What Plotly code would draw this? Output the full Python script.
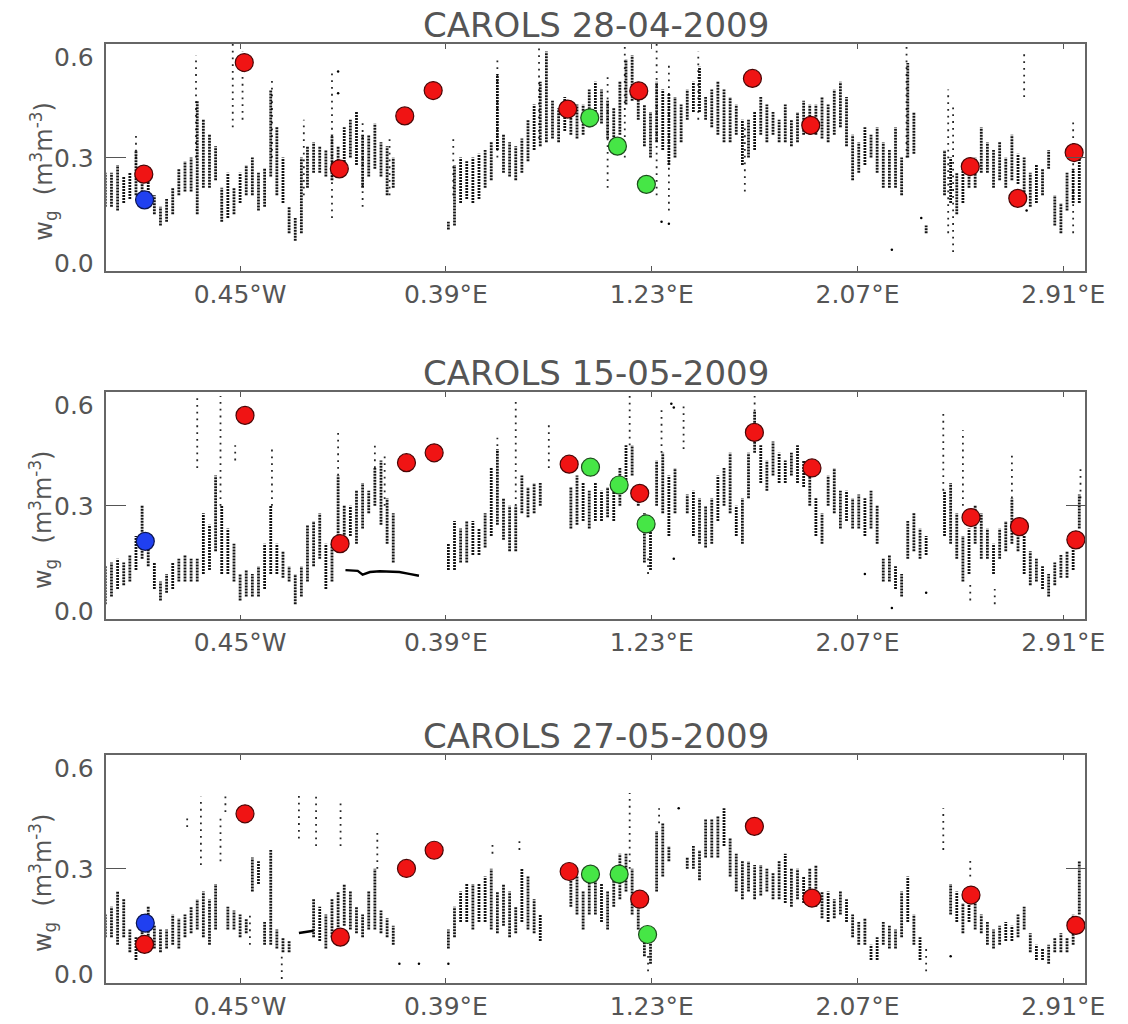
import plotly.graph_objects as go

# ---------------- data ----------------
LON = [-1.0, -0.975, -0.95, -0.925, -0.9, -0.875, -0.85, -0.825,
       -0.8, -0.775, -0.75, -0.725, -0.7, -0.675, -0.65, -0.625,
       -0.6, -0.575, -0.55, -0.525, -0.5, -0.475, -0.45, -0.425,
       -0.4, -0.375, -0.35, -0.325, -0.3, -0.275, -0.25, -0.225,
       -0.2, -0.175, -0.15, -0.125, -0.1, -0.075, -0.05, -0.025,
       0.0, 0.025, 0.05, 0.075, 0.1, 0.125, 0.15, 0.175,
       0.2, 0.225, 0.25, 0.275, 0.3, 0.325, 0.35, 0.375,
       0.4, 0.425, 0.45, 0.475, 0.5, 0.525, 0.55, 0.575,
       0.6, 0.625, 0.65, 0.675, 0.7, 0.725, 0.75, 0.775,
       0.8, 0.825, 0.85, 0.875, 0.9, 0.925, 0.95, 0.975,
       1.0, 1.025, 1.05, 1.075, 1.1, 1.125, 1.15, 1.175,
       1.2, 1.225, 1.25, 1.275, 1.3, 1.325, 1.35, 1.375,
       1.4, 1.425, 1.45, 1.475, 1.5, 1.525, 1.55, 1.575,
       1.6, 1.625, 1.65, 1.675, 1.7, 1.725, 1.75, 1.775,
       1.8, 1.825, 1.85, 1.875, 1.9, 1.925, 1.95, 1.975,
       2.0, 2.025, 2.05, 2.075, 2.1, 2.125, 2.15, 2.175,
       2.2, 2.225, 2.25, 2.275, 2.3, 2.325, 2.35, 2.375,
       2.4, 2.425, 2.45, 2.475, 2.5, 2.525, 2.55, 2.575,
       2.6, 2.625, 2.65, 2.675, 2.7, 2.725, 2.75, 2.775,
       2.8, 2.825, 2.85, 2.875, 2.9, 2.925, 2.95, 2.975,
       3.0]
N = None

# Panel 1 : CAROLS 28-04-2009  (dense airborne wg cloud, low / high edge)
P1_LO = [0.17, 0.17, 0.16, 0.18, 0.19, 0.20, 0.20, 0.19,
         0.15, 0.12, 0.13, 0.15, 0.20, 0.21, 0.21, 0.15,
         0.22, 0.22, 0.24, 0.13, 0.14, 0.15, 0.18, 0.20,
         0.20, 0.16, 0.17, 0.25, 0.20, 0.18, 0.10, 0.08,
         0.10, 0.22, 0.26, 0.26, 0.25, 0.24, 0.26, 0.28,
         0.30, 0.28, 0.22, 0.25, 0.27, 0.25, 0.20, 0.22,
         N, N, N, N, N, N, N, N,
         0.11, 0.12, 0.18, 0.19, 0.18, 0.19, 0.22, 0.24,
         0.32, 0.26, 0.25, 0.24, 0.26, 0.29, 0.32, 0.33,
         0.34, 0.35, 0.34, 0.37, 0.36, 0.35, 0.36, 0.38,
         0.42, 0.39, 0.35, 0.33, 0.36, 0.44, 0.45, 0.40,
         0.33, 0.30, 0.34, 0.32, 0.28, 0.30, 0.34, 0.40,
         0.42, 0.42, 0.40, 0.38, 0.36, 0.34, 0.34, 0.36,
         0.28, 0.30, 0.32, 0.36, 0.34, 0.36, 0.34, 0.34,
         0.33, 0.34, 0.36, 0.36, 0.36, 0.35, 0.34, 0.36,
         0.38, 0.33, 0.24, 0.26, 0.28, 0.30, 0.26, 0.22,
         0.22, 0.22, 0.20, 0.30, 0.31, N, 0.10, N,
         N, 0.20, 0.18, 0.15, 0.18, 0.22, 0.22, 0.26,
         0.26, 0.22, 0.24, 0.22, 0.24, 0.23, 0.20, 0.17,
         0.18, 0.20, 0.27, 0.12, 0.10, 0.16, 0.18, 0.18,
         N]
P1_HI = [0.26, 0.26, 0.28, 0.25, 0.26, 0.32, 0.28, 0.27,
         0.20, 0.17, 0.19, 0.22, 0.27, 0.29, 0.30, 0.45,
         0.40, 0.36, 0.33, 0.22, 0.26, 0.22, 0.26, 0.28,
         0.30, 0.26, 0.27, 0.48, 0.38, 0.30, 0.17, 0.14,
         0.30, 0.33, 0.34, 0.33, 0.32, 0.36, 0.33, 0.38,
         0.40, 0.42, 0.36, 0.36, 0.39, 0.34, 0.33, 0.30,
         N, N, N, N, N, N, N, N,
         0.13, 0.28, 0.30, 0.29, 0.30, 0.31, 0.32, 0.34,
         0.52, 0.36, 0.34, 0.33, 0.35, 0.40, 0.44, 0.50,
         0.58, 0.45, 0.43, 0.46, 0.44, 0.44, 0.44, 0.48,
         0.50, 0.48, 0.45, 0.43, 0.50, 0.56, 0.57, 0.50,
         0.44, 0.42, 0.50, 0.48, 0.47, 0.46, 0.44, 0.48,
         0.50, 0.54, 0.46, 0.48, 0.50, 0.48, 0.46, 0.44,
         0.40, 0.40, 0.42, 0.46, 0.44, 0.42, 0.40, 0.44,
         0.40, 0.42, 0.45, 0.44, 0.44, 0.46, 0.44, 0.48,
         0.50, 0.46, 0.36, 0.34, 0.38, 0.36, 0.38, 0.34,
         0.32, 0.38, 0.30, 0.55, 0.42, N, 0.12, N,
         N, 0.32, 0.30, 0.26, 0.28, 0.30, 0.30, 0.38,
         0.34, 0.32, 0.34, 0.30, 0.36, 0.31, 0.30, 0.26,
         0.28, 0.27, 0.32, 0.20, 0.18, 0.26, 0.27, 0.30,
         N]

# Panel 2 : CAROLS 15-05-2009
P2_LO = [0.04, 0.06, 0.08, 0.09, 0.10, 0.13, 0.16, 0.14,
         0.08, 0.05, 0.07, 0.08, 0.10, 0.10, 0.10, 0.10,
         0.12, 0.13, 0.18, 0.12, 0.12, 0.10, 0.05, 0.06,
         0.06, 0.06, 0.08, 0.12, 0.12, 0.11, 0.10, 0.04,
         0.06, 0.10, 0.14, 0.16, 0.08, 0.10, 0.18, 0.20,
         0.22, 0.20, 0.24, 0.28, 0.30, 0.25, 0.20, 0.15,
         N, N, N, N, N, N, N, N,
         0.13, 0.13, 0.15, 0.15, 0.17, 0.17, 0.19, 0.22,
         0.25, 0.21, 0.18, 0.18, 0.28, 0.27, 0.28, 0.30,
         N, N, N, N, 0.24, 0.25, 0.26, 0.24,
         0.26, 0.26, 0.27, 0.26, 0.30, 0.36, 0.38, 0.30,
         0.15, 0.13, 0.30, 0.28, 0.22, 0.28, N, 0.28,
         0.22, 0.20, 0.19, 0.20, 0.26, 0.30, 0.28, 0.22,
         0.20, 0.32, 0.44, 0.36, 0.34, 0.38, 0.36, 0.36,
         0.38, 0.36, 0.35, 0.30, 0.22, 0.20, 0.30, 0.28,
         0.24, 0.26, 0.24, 0.24, 0.22, 0.24, 0.20, 0.10,
         0.10, 0.08, 0.06, 0.16, 0.18, 0.16, 0.17, N,
         N, 0.22, 0.20, 0.16, 0.10, 0.12, 0.20, 0.16,
         0.16, 0.12, 0.16, 0.18, 0.20, 0.18, 0.12, 0.09,
         0.10, 0.08, 0.06, 0.09, 0.11, 0.11, 0.13, 0.24,
         N]
P2_HI = [0.14, 0.15, 0.16, 0.15, 0.17, 0.22, 0.30, 0.20,
         0.15, 0.10, 0.12, 0.15, 0.16, 0.17, 0.16, 0.16,
         0.28, 0.25, 0.38, 0.30, 0.24, 0.20, 0.12, 0.13,
         0.12, 0.14, 0.20, 0.30, 0.20, 0.18, 0.14, 0.12,
         0.14, 0.25, 0.26, 0.28, 0.20, 0.20, 0.38, 0.30,
         0.30, 0.34, 0.36, 0.34, 0.40, 0.42, 0.32, 0.28,
         N, N, N, N, N, N, N, N,
         0.20, 0.26, 0.24, 0.26, 0.26, 0.24, 0.28, 0.40,
         0.45, 0.32, 0.30, 0.30, 0.38, 0.35, 0.36, 0.36,
         N, N, N, N, 0.35, 0.38, 0.36, 0.34,
         0.36, 0.34, 0.35, 0.36, 0.40, 0.46, 0.46, 0.34,
         0.28, 0.25, 0.42, 0.44, 0.38, 0.40, N, 0.33,
         0.34, 0.32, 0.30, 0.32, 0.38, 0.40, 0.44, 0.30,
         0.32, 0.44, 0.55, 0.46, 0.42, 0.47, 0.44, 0.42,
         0.44, 0.46, 0.42, 0.38, 0.32, 0.28, 0.38, 0.40,
         0.34, 0.34, 0.32, 0.33, 0.32, 0.34, 0.30, 0.16,
         0.17, 0.14, 0.12, 0.26, 0.28, 0.24, 0.22, N,
         N, 0.34, 0.36, 0.28, 0.22, 0.24, 0.30, 0.28,
         0.24, 0.20, 0.24, 0.26, 0.32, 0.26, 0.22, 0.18,
         0.16, 0.14, 0.12, 0.15, 0.17, 0.18, 0.19, 0.33,
         N]

# Panel 3 : CAROLS 27-05-2009
P3_LO = [0.12, 0.12, 0.10, 0.12, 0.08, 0.06, 0.08, 0.10,
         0.09, 0.08, 0.09, 0.10, 0.09, 0.12, 0.13, 0.14,
         0.12, 0.10, 0.14, N, 0.14, 0.14, 0.12, 0.13,
         0.24, 0.26, 0.10, 0.10, 0.09, 0.08, 0.08, N,
         N, N, 0.12, 0.11, 0.09, 0.12, 0.13, 0.15,
         0.14, 0.13, 0.12, 0.14, 0.14, 0.13, 0.12, 0.10,
         N, N, N, N, N, N, N, N,
         0.09, 0.12, 0.16, 0.16, 0.14, 0.16, 0.16, 0.14,
         0.13, 0.15, 0.12, 0.13, 0.16, 0.14, 0.13, 0.11,
         N, N, N, N, 0.20, 0.18, 0.14, 0.18,
         0.18, 0.16, 0.14, 0.20, 0.22, 0.24, 0.18, 0.14,
         0.07, 0.05, 0.24, 0.28, 0.32, N, N, 0.30,
         0.30, 0.27, 0.33, 0.33, 0.33, 0.36, 0.28, 0.24,
         0.22, 0.24, 0.22, 0.23, 0.24, 0.22, 0.22, 0.21,
         0.20, 0.22, 0.21, 0.20, 0.20, 0.17, 0.16, 0.17,
         0.18, 0.16, 0.12, 0.10, 0.10, 0.06, 0.06, 0.10,
         0.09, 0.09, 0.12, 0.16, 0.10, 0.06, N, N,
         N, N, 0.18, 0.16, 0.13, 0.16, 0.14, 0.13,
         0.10, 0.09, 0.10, 0.11, 0.11, 0.12, 0.14, 0.08,
         0.06, 0.06, 0.05, 0.08, 0.08, 0.08, 0.10, 0.18,
         N]
P3_HI = [0.18, 0.20, 0.24, 0.22, 0.14, 0.12, 0.18, 0.20,
         0.15, 0.14, 0.14, 0.18, 0.17, 0.18, 0.20, 0.22,
         0.24, 0.22, 0.26, N, 0.20, 0.19, 0.18, 0.17,
         0.33, 0.32, 0.16, 0.35, 0.14, 0.12, 0.11, N,
         N, N, 0.22, 0.20, 0.18, 0.22, 0.24, 0.26,
         0.24, 0.20, 0.18, 0.24, 0.30, 0.19, 0.17, 0.15,
         N, N, N, N, N, N, N, N,
         0.14, 0.20, 0.24, 0.26, 0.26, 0.26, 0.28, 0.30,
         0.24, 0.26, 0.24, 0.20, 0.30, 0.28, 0.22, 0.18,
         N, N, N, N, 0.30, 0.28, 0.24, 0.28,
         0.28, 0.26, 0.24, 0.30, 0.34, 0.34, 0.30, 0.22,
         0.14, 0.12, 0.40, 0.42, 0.36, N, N, 0.33,
         0.36, 0.35, 0.43, 0.43, 0.44, 0.46, 0.38, 0.34,
         0.32, 0.32, 0.31, 0.31, 0.30, 0.29, 0.32, 0.34,
         0.30, 0.30, 0.28, 0.30, 0.31, 0.24, 0.24, 0.22,
         0.24, 0.22, 0.18, 0.16, 0.17, 0.10, 0.12, 0.16,
         0.15, 0.14, 0.24, 0.28, 0.18, 0.12, N, N,
         N, N, 0.26, 0.24, 0.21, 0.22, 0.22, 0.18,
         0.16, 0.14, 0.15, 0.16, 0.15, 0.18, 0.20, 0.13,
         0.10, 0.09, 0.10, 0.12, 0.13, 0.12, 0.18, 0.32,
         N]

# sparse streaks (lon, low, high)
P1_S_LON = [-0.875, -0.63, -0.48, -0.44, -0.32, -0.19, -0.075, 0.05, 0.16, 0.42, 0.60, 0.77,
            1.05, 1.12, 1.25, 1.30, 1.42, 1.61, 2.27, 2.44, 2.46, 2.75, 2.95]
P1_S_LO = [0.28, 0.30, 0.38, 0.40, 0.30, 0.20, 0.14, 0.17, 0.20, 0.20, 0.30, 0.35,
           0.22, 0.30, 0.20, 0.16, 0.40, 0.21, 0.30, 0.10, 0.05, 0.46, 0.10]
P1_S_HI = [0.36, 0.57, 0.60, 0.58, 0.51, 0.40, 0.53, 0.40, 0.36, 0.35, 0.56, 0.60,
           0.52, 0.60, 0.60, 0.55, 0.58, 0.38, 0.60, 0.48, 0.44, 0.58, 0.40]
P2_S_LON = [-0.625, -0.53, -0.47, -0.32, -0.05, 0.10, 0.14, 0.60, 0.675, 0.81, 1.14, 1.215,
            1.27, 1.36, 1.65, 2.42, 2.50, 2.53, 2.63, 2.70, 2.98]
P2_S_LO = [0.40, 0.30, 0.42, 0.30, 0.38, 0.40, 0.30, 0.44, 0.30, 0.40, 0.46, 0.12,
           0.44, 0.45, 0.55, 0.34, 0.30, 0.05, 0.04, 0.32, 0.32]
P2_S_HI = [0.59, 0.59, 0.46, 0.46, 0.50, 0.47, 0.44, 0.48, 0.58, 0.52, 0.59, 0.17,
           0.56, 0.57, 0.59, 0.55, 0.50, 0.10, 0.08, 0.44, 0.40]
P3_S_LON = [-0.666, -0.61, -0.53, -0.51, -0.41, -0.28, -0.21, -0.14, -0.04, 0.11, 0.58, 0.69,
            1.14, 1.215, 1.26, 2.35, 2.42, 2.53]
P3_S_LO = [0.41, 0.31, 0.32, 0.45, 0.10, 0.01, 0.38, 0.36, 0.36, 0.30, 0.34, 0.35,
           0.30, 0.03, 0.42, 0.03, 0.35, 0.28]
P3_S_HI = [0.44, 0.49, 0.44, 0.50, 0.18, 0.08, 0.50, 0.49, 0.48, 0.40, 0.37, 0.38,
           0.50, 0.08, 0.46, 0.09, 0.46, 0.33]

# isolated dots
P1_D_LON = [-0.05, -0.05, 2.21, 2.33, 1.27, 1.30, 2.76]
P1_D_WG = [0.527, 0.47, 0.056, 0.14, 0.13, 0.125, 0.16]
P2_D_LON = [1.32, 1.32, 1.31, 2.21, 2.35, 2.10]
P2_D_WG = [0.16, 0.56, 0.57, 0.03, 0.07, 0.12]
P3_D_LON = [0.20, 0.28, 0.40, 1.34, 2.45]
P3_D_WG = [0.05, 0.05, 0.05, 0.46, 0.07]

# near-constant flight legs
P2_L_LON = [-0.02, 0.03, 0.05, 0.08, 0.12, 0.16, 0.20, 0.24, 0.28]
P2_L_WG = [0.130, 0.128, 0.118, 0.125, 0.127, 0.126, 0.125, 0.120, 0.115]
P3_L_LON = [-0.21, -0.19, -0.17, -0.15]
P3_L_WG = [0.131, 0.133, 0.135, 0.137]

# ground stations
P1_RED_LON = [-0.843, -0.433, -0.045, 0.222, 0.338, 0.887, 1.177, 1.641, 1.879, 2.530, 2.724, 2.954]
P1_RED_WG = [0.256, 0.551, 0.270, 0.410, 0.477, 0.428, 0.476, 0.509, 0.385, 0.276, 0.192, 0.313]
P1_GRN_LON = [0.977, 1.090, 1.208]
P1_GRN_WG = [0.405, 0.330, 0.229]
P1_BLU_LON = [-0.84]
P1_BLU_WG = [0.188]

P2_RED_LON = [-0.430, -0.042, 0.229, 0.342, 0.893, 1.181, 1.649, 1.884, 2.533, 2.731, 2.961]
P2_RED_WG = [0.539, 0.200, 0.414, 0.440, 0.410, 0.333, 0.494, 0.400, 0.269, 0.245, 0.210]
P2_GRN_LON = [0.980, 1.097, 1.207]
P2_GRN_WG = [0.402, 0.355, 0.252]
P2_BLU_LON = [-0.837]
P2_BLU_WG = [0.206]

P3_RED_LON = [-0.840, -0.430, -0.041, 0.229, 0.342, 0.893, 1.181, 1.649, 1.884, 2.533, 2.961]
P3_RED_WG = [0.101, 0.445, 0.120, 0.301, 0.349, 0.293, 0.220, 0.412, 0.223, 0.231, 0.151]
P3_GRN_LON = [0.980, 1.097, 1.213]
P3_GRN_WG = [0.286, 0.286, 0.127]
P3_BLU_LON = [-0.837]
P3_BLU_WG = [0.157]

TITLES = ["CAROLS 28-04-2009", "CAROLS 15-05-2009", "CAROLS 27-05-2009"]
X_TICKS = [-0.45, 0.39, 1.23, 2.07, 2.91]
X_TICK_LABELS = ["0.45°W", "0.39°E", "1.23°E", "2.07°E", "2.91°E"]
Y_TICKS = [0.0, 0.3, 0.6]
Y_TICK_LABELS = ["0.0", "0.3", "0.6"]
Y_TITLE = "w<sub>g</sub>  (m<sup>3</sup>m<sup>-3</sup>)"

for arr in (P1_LO, P1_HI, P2_LO, P2_HI, P3_LO, P3_HI):
    assert len(arr) == len(LON)

# ---------------- layout helpers ----------------
W, H = 1128, 1024
FRAME_L, FRAME_R = 108, 1105
FRAMES = [(44.0, 271.0), (392.3, 619.3), (755.0, 982.7)]
TXT = "#555555"
FONT = "DejaVu Sans"

PANELS = [
    dict(lo=P1_LO, hi=P1_HI, slon=P1_S_LON, slo=P1_S_LO, shi=P1_S_HI,
         dlon=P1_D_LON, dwg=P1_D_WG, llon=[], lwg=[],
         red=(P1_RED_LON, P1_RED_WG), grn=(P1_GRN_LON, P1_GRN_WG), blu=(P1_BLU_LON, P1_BLU_WG)),
    dict(lo=P2_LO, hi=P2_HI, slon=P2_S_LON, slo=P2_S_LO, shi=P2_S_HI,
         dlon=P2_D_LON, dwg=P2_D_WG, llon=P2_L_LON, lwg=P2_L_WG,
         red=(P2_RED_LON, P2_RED_WG), grn=(P2_GRN_LON, P2_GRN_WG), blu=(P2_BLU_LON, P2_BLU_WG)),
    dict(lo=P3_LO, hi=P3_HI, slon=P3_S_LON, slo=P3_S_LO, shi=P3_S_HI,
         dlon=P3_D_LON, dwg=P3_D_WG, llon=P3_L_LON, lwg=P3_L_WG,
         red=(P3_RED_LON, P3_RED_WG), grn=(P3_GRN_LON, P3_GRN_WG), blu=(P3_BLU_LON, P3_BLU_WG)),
]


def segs(xs, los, his):
    X, Y = [], []
    for x, a, b in zip(xs, los, his):
        if a is None or b is None:
            continue
        X += [x, x, None]
        Y += [a, b, None]
    return X, Y


fig = go.Figure()
layout = dict(width=W, height=H, margin=dict(l=0, r=0, t=0, b=0),
              paper_bgcolor="white", plot_bgcolor="white", showlegend=False,
              annotations=[])

for i, p in enumerate(PANELS):
    k = "" if i == 0 else str(i + 1)
    xa, ya = "x" + k, "y" + k
    top, bot = FRAMES[i]

    dx, dy = segs(LON, p["lo"], p["hi"])
    fig.add_trace(go.Scatter(x=dx, y=dy, mode="lines", xaxis=xa, yaxis=ya,
                             line=dict(color="rgba(0,0,0,0.92)", width=2.8, dash="2px,1px"),
                             hoverinfo="skip"))
    sx, sy = segs(p["slon"], p["slo"], p["shi"])
    fig.add_trace(go.Scatter(x=sx, y=sy, mode="lines", xaxis=xa, yaxis=ya,
                             line=dict(color="rgba(0,0,0,0.85)", width=1.8, dash="1.8px,5px"),
                             hoverinfo="skip"))
    fig.add_trace(go.Scatter(x=p["dlon"], y=p["dwg"], mode="markers", xaxis=xa, yaxis=ya,
                             marker=dict(color="black", size=2.5), hoverinfo="skip"))
    if p["llon"]:
        fig.add_trace(go.Scatter(x=p["llon"], y=p["lwg"], mode="lines", xaxis=xa, yaxis=ya,
                                 line=dict(color="black", width=2.4), hoverinfo="skip"))
    for (lx, ly), fill, edge in ((p["red"], "#f01414", "#4a0606"),
                                 (p["grn"], "#46e646", "#1d4d1d"),
                                 (p["blu"], "#2040f0", "#0a1450")):
        fig.add_trace(go.Scatter(x=lx, y=ly, mode="markers", xaxis=xa, yaxis=ya,
                                 marker=dict(color=fill, size=18, line=dict(color=edge, width=1.2)),
                                 cliponaxis=False))

    layout["xaxis" + k] = dict(domain=[FRAME_L / W, FRAME_R / W], range=[-0.997, 3.0],
                               anchor=ya, tickmode="array", tickvals=X_TICKS, ticktext=X_TICK_LABELS,
                               ticks="inside", ticklen=5, tickwidth=1.2, tickcolor="#555",
                               showline=True, linecolor="#666", linewidth=1.6, mirror="allticks",
                               showgrid=False, zeroline=False,
                               tickfont=dict(family=FONT, size=25, color=TXT))
    layout["yaxis" + k] = dict(domain=[1 - bot / H, 1 - top / H], range=[0, 0.6],
                               anchor=xa, tickmode="array", tickvals=Y_TICKS,
                               showticklabels=False,
                               ticks="inside", ticklen=20, tickwidth=1.2, tickcolor="#555",
                               showline=True, linecolor="#666", linewidth=1.6, mirror="allticks",
                               showgrid=False, zeroline=False)
    # title
    layout["annotations"].append(dict(text=TITLES[i], xref="paper", yref="paper",
                                      x=(FRAME_L + FRAME_R) / 2 / W, y=1 - (top - 19) / H,
                                      xanchor="center", yanchor="middle", showarrow=False,
                                      font=dict(family=FONT, size=34, color=TXT)))
    # y title
    layout["annotations"].append(dict(text=Y_TITLE, xref="paper", yref="paper",
                                      x=44 / W, y=1 - ((top + bot) / 2 + 14) / H,
                                      xanchor="center", yanchor="middle", textangle=-90,
                                      showarrow=False, font=dict(family=FONT, size=24, color=TXT)))
    # y tick labels (end labels drawn just inside the frame, as in the reference)
    shifts = {0.0: 8, 0.3: -1, 0.6: -13}
    for v, t in zip(Y_TICKS, Y_TICK_LABELS):
        layout["annotations"].append(dict(text=t, xref="paper", yref=ya, x=98 / W, y=v,
                                          xanchor="right", yanchor="middle", yshift=shifts[v],
                                          showarrow=False,
                                          font=dict(family=FONT, size=25, color=TXT)))

fig.update_layout(**layout)
fig.write_html("out.html", config={"displayModeBar": False, "responsive": False},
               post_script="document.body.style.margin='0';document.body.style.padding='0';"
                           "document.documentElement.style.overflow='hidden';")
